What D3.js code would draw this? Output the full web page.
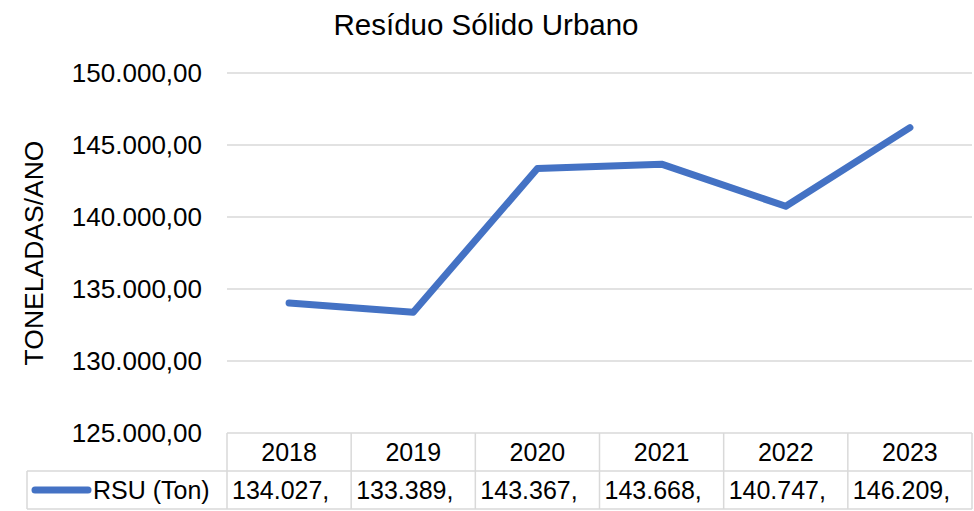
<!DOCTYPE html>
<html>
<head>
<meta charset="utf-8">
<script src="https://cdn.jsdelivr.net/npm/d3@7"></script>
<style>
  body { margin: 0; background: #fff; }
  text { font-family: "Liberation Sans", Arial, sans-serif; fill: #000; }
</style>
</head>
<body>
<div id="chart"></div>
<script>
// chart data
const years = ["2018", "2019", "2020", "2021", "2022", "2023"];
const rsuValues = [134027, 133389, 143367, 143668, 140747, 146209];
const tableLabels = ["134.027,", "133.389,", "143.367,", "143.668,", "140.747,", "146.209,"];
const yTicks = [125000, 130000, 135000, 140000, 145000, 150000];
const seriesName = "RSU (Ton)";

const W = 974, H = 511;
const plot = { left: 227, right: 972, top: 73, bottom: 433 };
const rowH = [38, 38];
const fs = 25;
const blue = "#4472C4", grid = "#d9d9d9";

const svg = d3.select("#chart").append("svg")
    .attr("width", W)
    .attr("height", H);

const x = d3.scaleBand()
    .domain(years)
    .range([plot.left, plot.right]);

const y = d3.scaleLinear()
    .domain([125000, 150000])
    .range([plot.bottom, plot.top]);

const fmt = v => d3.format(",.2f")(v).replace(/,/g, "#").replace(".", ",").replace(/#/g, ".");

// gridlines
svg.append("g")
    .selectAll("line")
    .data(yTicks.slice(1))
    .enter()
    .append("line")
    .attr("x1", plot.left)
    .attr("x2", plot.right)
    .attr("y1", d => y(d))
    .attr("y2", d => y(d))
    .attr("stroke", grid)
    .attr("stroke-width", 1.5);

// tick labels
svg.append("g")
    .selectAll("text")
    .data(yTicks)
    .enter()
    .append("text")
    .attr("x", 202)
    .attr("y", d => y(d))
    .attr("dy", "0.36em")
    .attr("text-anchor", "end")
    .style("font-size", "26px")
    .text(d => fmt(d));

// title
svg.append("text")
    .attr("x", 486)
    .attr("y", 35)
    .attr("text-anchor", "middle")
    .style("font-size", "29.5px")
    .text("Resíduo Sólido Urbano");

// axis title
svg.append("text")
    .attr("transform", "translate(43,253) rotate(-90)")
    .attr("text-anchor", "middle")
    .style("font-size", "26.5px")
    .text("TONELADAS/ANO");

// data table
const tTop = plot.bottom;
const tMid = tTop + rowH[0];
const tBot = tMid + rowH[1];
const tLeft = 27;
const table = svg.append("g").attr("stroke", grid).attr("stroke-width", 1.5);
table.append("line").attr("x1", plot.left).attr("x2", plot.right).attr("y1", tTop).attr("y2", tTop);
table.append("line").attr("x1", tLeft).attr("x2", plot.right).attr("y1", tMid).attr("y2", tMid);
table.append("line").attr("x1", tLeft).attr("x2", plot.right).attr("y1", tBot).attr("y2", tBot);
table.append("line").attr("x1", tLeft).attr("x2", tLeft).attr("y1", tMid).attr("y2", tBot);
table.selectAll(".vline")
    .data(years.map(d => x(d)).concat([plot.right]))
    .enter()
    .append("line")
    .attr("class", "vline")
    .attr("x1", d => d)
    .attr("x2", d => d)
    .attr("y1", tTop)
    .attr("y2", tBot);

svg.append("g")
    .selectAll("text")
    .data(years)
    .enter()
    .append("text")
    .attr("x", d => x(d) + x.bandwidth() / 2)
    .attr("y", (tTop + tMid) / 2)
    .attr("dy", "0.36em")
    .attr("text-anchor", "middle")
    .style("font-size", fs + "px")
    .text(d => d);

svg.append("g")
    .selectAll("text")
    .data(tableLabels)
    .enter()
    .append("text")
    .attr("x", (d, i) => x(years[i]) + 5)
    .attr("y", (tMid + tBot) / 2)
    .attr("dy", "0.36em")
    .style("font-size", fs + "px")
    .text(d => d);

// legend key
svg.append("line")
    .attr("x1", 35)
    .attr("x2", 88)
    .attr("y1", (tMid + tBot) / 2)
    .attr("y2", (tMid + tBot) / 2)
    .attr("stroke", blue)
    .attr("stroke-width", 7)
    .attr("stroke-linecap", "round");

svg.append("text")
    .attr("x", 93)
    .attr("y", (tMid + tBot) / 2)
    .attr("dy", "0.36em")
    .style("font-size", fs + "px")
    .text(seriesName);

// series line
const line = d3.line()
    .x((d, i) => x(years[i]) + x.bandwidth() / 2)
    .y(d => y(d));

svg.append("path")
    .datum(rsuValues)
    .attr("fill", "none")
    .attr("stroke", blue)
    .attr("stroke-width", 7)
    .attr("stroke-linecap", "round")
    .attr("stroke-linejoin", "round")
    .attr("d", line);
</script>
</body>
</html>
